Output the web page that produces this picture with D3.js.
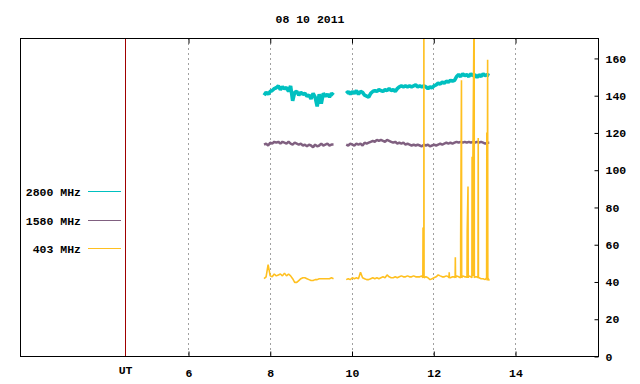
<!DOCTYPE html>
<html>
<head>
<meta charset="utf-8">
<script src="https://cdn.jsdelivr.net/npm/d3@7"></script>
<style>
  body { margin: 0; background: #fff; }
  text { font-family: "Liberation Mono", "DejaVu Sans Mono", monospace; font-weight: bold; font-size: 11.5px; fill: #000; }
</style>
</head>
<body>
<div id="plot"></div>
<script>
// Chart data (hours UT, flux values)
const title = "08 10 2011";
const hourTicks = [6, 8, 10, 12, 14];
const fluxTicks = [0, 20, 40, 60, 80, 100, 120, 140, 160];
const utHour = 4.46;
const sampleStep = 0.05;          // hours between samples
const seg1Start = 7.86;
const seg2Start = 9.87;

const labels = ["2800 MHz", "1580 MHz", "403 MHz"];
const colors = ["#00c0c0", "#806080", "#ffc020"];
const widths = [3.6, 2.5, 1.6];

const mhz2800a = [140, 141.5, 140.5, 142, 142.5, 143.5, 144, 145, 143, 144.5, 143.5, 144, 142, 145, 137, 141.5, 142, 140, 141.5, 140.5, 141, 139.5, 140, 138, 141, 139, 134, 140.5, 135.5, 141, 139.5, 140.5, 139, 141, 140];
const mhz2800b = [141, 142, 140.5, 142, 141, 142.5, 140.5, 142, 141.5, 140, 139.5, 139, 141, 142, 142.5, 142, 143, 142.5, 142, 143, 142.5, 143.5, 142.5, 143, 142, 143.5, 144.5, 145, 144.5, 145, 144.5, 145, 144.5, 145, 145.5, 144.5, 145, 144.5, 145, 144.5, 143.5, 144.5, 144, 145, 145.5, 146.5, 146, 147, 146.5, 147.5, 147, 148, 147.5, 148, 150, 151, 150, 151.5, 150.5, 151, 150, 151.5, 150.5, 151, 149.5, 151, 150, 151.5, 150.5, 151, 150.5];

const mhz1580a = [113.5, 114, 113, 114.5, 114, 115, 114.5, 115, 114, 115, 114.5, 114, 115, 114, 113.5, 114.5, 114, 113.5, 114, 113, 113.5, 112.5, 113.5, 113, 112, 113.5, 112.5, 113, 114, 113, 113.5, 114, 113, 113.5, 113.5];
const mhz1580b = [113.5, 113, 114, 113.5, 113, 114, 113.5, 114, 113, 114.5, 114, 114.5, 115, 115.5, 115, 116, 115.5, 116, 115.5, 115, 116, 115.5, 115, 114.5, 115, 114, 114.5, 114, 114.5, 113.5, 114, 113.5, 113, 113.5, 113, 113.5, 113, 112.5, 113.5, 113, 113.5, 112.5, 113, 113.5, 113, 113.5, 114, 113.5, 114, 114.5, 114, 114.5, 114, 114.5, 115, 114.5, 115, 114.5, 115, 114.5, 115, 114.5, 115, 114.5, 115, 114.5, 115, 114.5, 114, 114.5, 114.5];

const mhz403a = [41.5, 42.5, 49, 43, 42.5, 44, 43, 43.5, 44, 43, 44.5, 43, 44, 43, 41.5, 39.5, 39.5, 40.5, 41.5, 42, 42, 41.5, 41, 40.5, 40.5, 41, 41, 41.5, 41.5, 41.5, 41.5, 41.5, 41.5, 42, 41.5];
const mhz403b = [41, 41.5, 41, 42, 41.5, 42, 41.5, 45, 42, 41.5, 41, 41, 41.5, 42, 41.5, 42, 41.5, 42, 42.5, 42, 43.5, 42.5, 42, 42, 42.5, 42, 42.5, 43, 42.5, 42.5, 43, 42.5, 42.5, 43, 42.5, 42.5, 42.5, 43, 42.5, 42.5, 42, 41, 41.5, 42, 42.5, 43.5, 43, 42.5, 42.5, 43, 42.5, 42, 42.5, 42.5, 43, 42.5, 42.5, 43, 42.5, 42.5, 43, 42.5, 43, 42.5, 42.5, 42, 41.5, 41.5, 41, 40.5, 40.5];
// 403 MHz bursts (short, finely sampled stretches)
const burstHours = [11.745, 11.75, 11.77, 11.775, 12.385, 12.39, 12.395, 12.535, 12.54, 12.545, 12.665, 12.67, 12.69, 12.695, 12.825, 12.83, 12.85, 12.855, 12.945, 12.95, 12.97, 13.0, 13.005, 13.095, 13.1, 13.105, 13.305, 13.31, 13.33, 13.335];
const burstValues = [42, 69, 190, 42, 42, 45, 42, 42, 53, 42, 42, 61, 148, 42, 42, 67, 91, 42, 42, 107, 106, 190, 42, 42, 117, 42, 42, 120, 159, 42];

// Layout
const W = 640, H = 384;
const plot = { left: 20, right: 598, top: 38, bottom: 356 };

const svg = d3.select("#plot").append("svg")
  .attr("width", W).attr("height", H);

const x = d3.scaleLinear().domain([1.89, 16.03]).range([plot.left, plot.right]);
const y = d3.scaleLinear().domain([0, 170.7]).range([plot.bottom, plot.top]);

svg.append("defs").append("clipPath").attr("id", "clip")
  .append("rect")
  .attr("x", plot.left).attr("y", plot.top)
  .attr("width", plot.right - plot.left).attr("height", plot.bottom - plot.top);

// Grid
svg.append("g").selectAll("line")
  .data(hourTicks).enter().append("line")
  .attr("x1", d => Math.round(x(d)) + 0.5).attr("x2", d => Math.round(x(d)) + 0.5)
  .attr("y1", plot.top).attr("y2", plot.bottom)
  .attr("stroke", "#a0a0a0").attr("stroke-dasharray", "2,3");

// UT marker
svg.append("line")
  .attr("x1", Math.round(x(utHour)) + 0.5).attr("x2", Math.round(x(utHour)) + 0.5)
  .attr("y1", plot.top).attr("y2", plot.bottom)
  .attr("stroke", "#a00000");

// Series
function toPoints(start, vals) {
  return vals.map((v, i) => ({ h: start + i * sampleStep, v }));
}
const line = d3.line().x(d => x(d.h)).y(d => y(d.v));
const seriesData = [
  [toPoints(seg1Start, mhz2800a), toPoints(seg2Start, mhz2800b)],
  [toPoints(seg1Start, mhz1580a), toPoints(seg2Start, mhz1580b)],
  [toPoints(seg1Start, mhz403a),
   toPoints(seg2Start, mhz403b)
     .concat(burstHours.map((h, i) => ({ h, v: burstValues[i] })))
     .sort((a, b) => a.h - b.h)]
];

const g = svg.append("g").attr("clip-path", "url(#clip)");
seriesData.forEach((segs, i) => {
  g.selectAll(".s" + i).data(segs).enter().append("path")
    .attr("class", "s" + i)
    .attr("d", line)
    .attr("fill", "none")
    .attr("stroke", colors[i])
    .attr("stroke-width", widths[i])
    .attr("stroke-linejoin", "bevel");
});

// Border
svg.append("rect")
  .attr("x", plot.left + 0.5).attr("y", plot.top + 0.5)
  .attr("width", plot.right - plot.left).attr("height", plot.bottom - plot.top)
  .attr("fill", "none").attr("stroke", "#000");

// Bottom axis
const xAxis = svg.append("g")
  .attr("transform", `translate(0.5, ${plot.bottom + 0.5})`)
  .call(d3.axisBottom(x).tickValues(hourTicks).tickSize(-5).tickPadding(12).tickFormat(d3.format("d")));
xAxis.select(".domain").remove();
xAxis.selectAll("line").attr("stroke", "#000");
xAxis.selectAll("text").attr("dy", "0.7em").attr("font-size", null).attr("font-family", null);

// Top ticks
const topAxis = svg.append("g")
  .attr("transform", `translate(0.5, ${plot.top + 0.5})`)
  .call(d3.axisTop(x).tickValues(hourTicks).tickSize(-5).tickFormat(""));
topAxis.select(".domain").remove();
topAxis.selectAll("line").attr("stroke", "#000");

// UT label
svg.append("text")
  .attr("x", x(utHour) + 0.5).attr("y", 374)
  .attr("text-anchor", "middle")
  .text("UT");

// Right axis
const yAxis = svg.append("g")
  .attr("transform", `translate(${plot.right + 0.5}, 0.5)`)
  .call(d3.axisRight(y).tickValues(fluxTicks).tickSize(-4).tickPadding(7));
yAxis.select(".domain").remove();
yAxis.selectAll("line").attr("stroke", "#000");
yAxis.selectAll("text").attr("font-size", null).attr("font-family", null);

// Title
svg.append("text")
  .attr("x", 310).attr("y", 23)
  .attr("text-anchor", "middle")
  .text(title);

// Legend
const legend = svg.append("g").selectAll("g")
  .data(labels).enter().append("g")
  .attr("transform", (d, i) => `translate(0, ${Math.round(191 + i * 28.5) + 0.5})`);
legend.append("text")
  .attr("x", 81).attr("dy", "0.35em")
  .attr("text-anchor", "end")
  .text(d => d);
legend.append("line")
  .attr("x1", 88).attr("x2", 121)
  .attr("stroke", (d, i) => colors[i]);
</script>
</body>
</html>
